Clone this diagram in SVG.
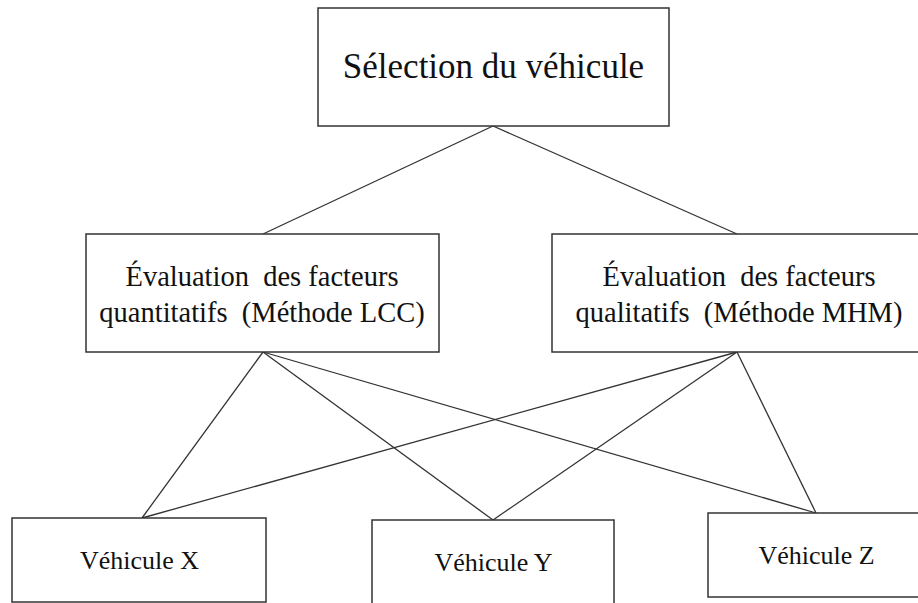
<svg xmlns="http://www.w3.org/2000/svg" width="918" height="603" viewBox="0 0 918 603">
<style>
.box{fill:#fff;stroke:#333;stroke-width:1.5}
.ln{stroke:#333;stroke-width:1.3;fill:none}
text{font-family:"Liberation Serif","Times New Roman",serif;fill:#111;text-anchor:middle}
.t1{font-size:35px}
.t2{font-size:28.5px}
.t3{font-size:26px}
</style>
<rect width="918" height="603" fill="#fff"/>
<g id="connectors">
<line class="ln" x1="493" y1="126" x2="263" y2="234"/>
<line class="ln" x1="493" y1="126" x2="737" y2="234"/>
<line class="ln" x1="263" y1="352" x2="142" y2="518"/>
<line class="ln" x1="263" y1="352" x2="493" y2="520"/>
<line class="ln" x1="263" y1="352" x2="816" y2="513"/>
<line class="ln" x1="737" y1="352" x2="142" y2="518"/>
<line class="ln" x1="737" y1="352" x2="493" y2="520"/>
<line class="ln" x1="737" y1="352" x2="816" y2="513"/>
</g>
<g id="selection" font-family="Liberation Serif, serif">
<rect class="box" x="318" y="8" width="351" height="118"/>
<text class="t1" x="493.5" y="78">Sélection du véhicule</text>
</g>
<g id="quantitatifs" font-family="Liberation Serif, serif">
<rect class="box" x="86" y="234" width="353" height="118"/>
<text class="t2" x="262" y="286" xml:space="preserve">Évaluation  des facteurs</text>
<text class="t2" x="262" y="322" xml:space="preserve">quantitatifs  (Méthode LCC)</text>
</g>
<g id="qualitatifs" font-family="Liberation Serif, serif">
<rect class="box" x="552" y="234" width="374" height="118"/>
<text class="t2" x="739" y="286" xml:space="preserve">Évaluation  des facteurs</text>
<text class="t2" x="739" y="322" xml:space="preserve">qualitatifs  (Méthode MHM)</text>
</g>
<g id="vehX" font-family="Liberation Serif, serif">
<rect class="box" x="12" y="518" width="254" height="84"/>
<text class="t3" x="139.5" y="569">Véhicule X</text>
</g>
<g id="vehY" font-family="Liberation Serif, serif">
<rect class="box" x="372" y="520" width="242" height="90"/>
<text class="t3" x="493.5" y="571">Véhicule Y</text>
</g>
<g id="vehZ" font-family="Liberation Serif, serif">
<rect class="box" x="708" y="513" width="218" height="84"/>
<text class="t3" x="816.5" y="564">Véhicule Z</text>
</g>
</svg>
